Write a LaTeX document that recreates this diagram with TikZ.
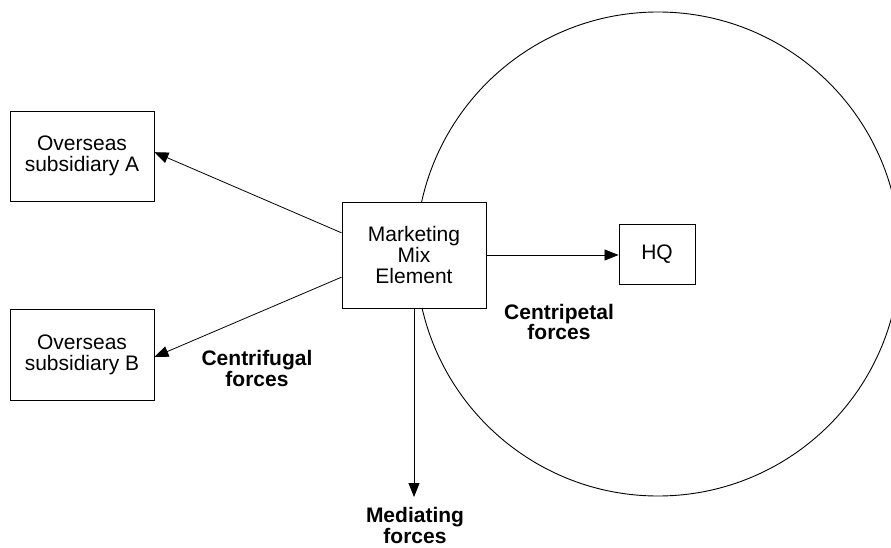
\documentclass[tikz,border=0pt]{standalone}
\usepackage{fontspec}
\setmainfont{Liberation Sans}
\usetikzlibrary{arrows.meta}
\begin{document}
\begin{tikzpicture}[x=1pt,y=-1pt,
  box/.style={draw, line width=0.9pt, fill=white, align=center, inner sep=0pt,
    font=\fontsize{21}{21}\selectfont},
  lbl/.style={align=center, inner sep=0pt, font=\fontsize{21}{20.5}\selectfont\bfseries},
  arr/.style={line width=0.8pt, -{Triangle[length=14pt,width=11pt]}}]
\useasboundingbox (0,0) rectangle (891,548);
\draw[line width=0.9pt] (658,254) circle (242);
\node[box, minimum width=144, minimum height=90] (A) at (82,156) {Overseas\\subsidiary A};
\node[box, minimum width=144, minimum height=91] (B) at (82,354.5) {Overseas\\subsidiary B};
\node[box, minimum width=144, minimum height=106] (mm) at (414,255) {Marketing\\Mix\\Element};
\node[box, minimum width=76, minimum height=60] (hq) at (657,254) {HQ};
\coordinate (mdend) at (414,497);
\draw[arr] (mm.163) -- (A.3);
\draw[arr] (mm.197) -- (B.-2);
\draw[arr] (mm.east) -- (mm.east -| hq.west);
\draw[arr] (mm.south) -- (mdend);
\node[lbl] (cp) at (559,322) {Centripetal\\forces};
\node[lbl] (cf) at (257,368.5) {Centrifugal\\forces};
\node[lbl] (md) at (415,525.5) {Mediating\\forces};
\end{tikzpicture}
\end{document}
